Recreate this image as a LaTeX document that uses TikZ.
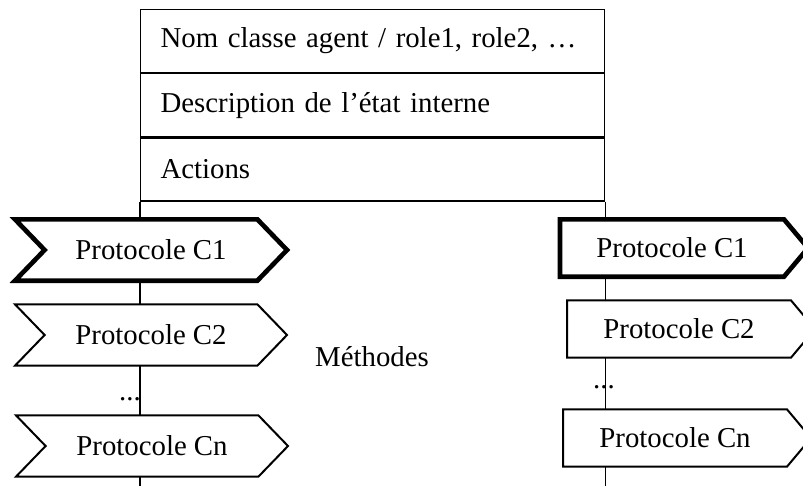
\documentclass[tikz,border=0pt]{standalone}
\usepackage{fontspec}
\setmainfont{Liberation Serif}
\usetikzlibrary{shapes.symbols,positioning}
\tikzset{
  rangee/.style={draw,line width=0.9pt,anchor=north west,text width=318pt,inner xsep=15pt,minimum height=47.25pt,align=left},
  protoin/.style={signal,signal to=east,signal from=west,signal pointer angle=92,draw,fill=white,line width=1.5pt,minimum width=204pt,minimum height=46pt,inner sep=0pt},
  protoout/.style={signal,signal to=east,signal pointer angle=100,draw,fill=white,line width=1.5pt,minimum width=186pt,minimum height=43pt,inner sep=0pt},
  gras/.style={line width=3.5pt}
}
\begin{document}
\begin{tikzpicture}[x=0.75pt,y=-0.75pt,font=\fontsize{21.6}{26}\selectfont]
      \useasboundingbox (0,0) rectangle (803,486);
      \clip (0,0) rectangle (803,486);
      \coordinate (bas) at (0,486);
      % boite de la classe agent
      \node[rangee] (nom) at (140,9) {Nom classe agent / role1, role2, \dots};
      \node[rangee] (etat) at (nom.south west) {Description de l'état interne};
      \node[rangee] (actions) at (etat.south west) {Actions};
      \draw[line width=0.9pt] (actions.south west) -- (actions.south west |- bas);
      \draw[line width=0.9pt] (actions.south east) -- (actions.south east |- bas);
      % protocoles a gauche
      \node[protoin,gras] (gc1) at (151,250) {Protocole C1};
      \node[protoin] (gc2) at (151,335) {Protocole C2};
      \node (gpts) at (130,399) {...};
      \node[protoin] (gcn) at (152,446) {Protocole Cn};
      \node (meth) at (372,357) {Méthodes};
      % protocoles a droite
      \node[protoout,gras] (dc1) at (672,248) {Protocole C1};
      \node[protoout] (dc2) at (679,329) {Protocole C2};
      \node (dpts) at (604,387) {...};
      \node[protoout] (dcn) at (675,438) {Protocole Cn};
    \end{tikzpicture}
\end{document}
